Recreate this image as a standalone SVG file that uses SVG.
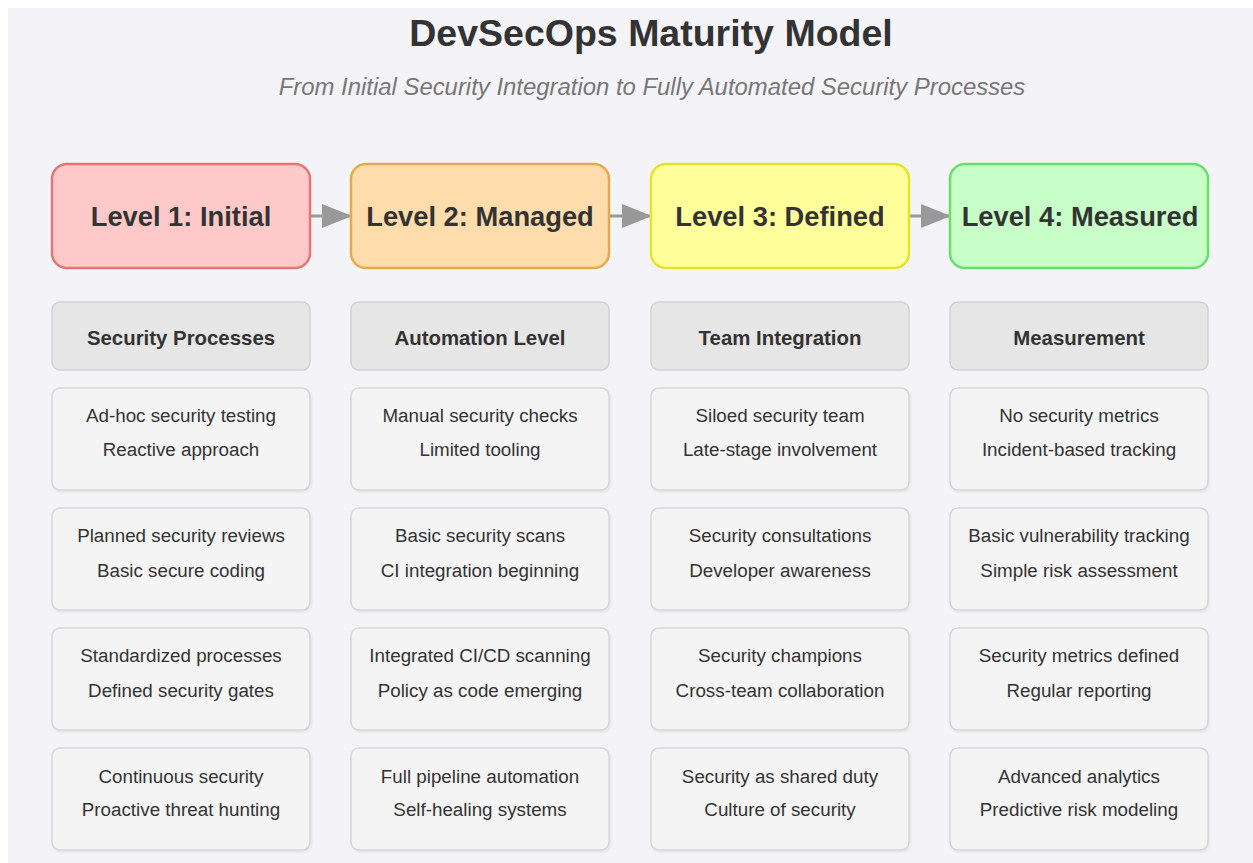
<svg xmlns="http://www.w3.org/2000/svg" width="1253" height="863" viewBox="0 0 1253 863">
  <defs>
    <style>
      .title { font-family: "Liberation Sans", Arial, sans-serif; font-weight: bold; font-size: 37.5px; fill: #333; text-anchor: middle; }
      .subtitle { font-family: "Liberation Sans", Arial, sans-serif; font-style: italic; font-size: 23.9px; fill: #777; text-anchor: middle; }
      .level { stroke-width: 2.5; }
      .level-text { font-family: "Liberation Sans", Arial, sans-serif; font-weight: bold; font-size: 27.3px; fill: #333; text-anchor: middle; }
      .head { fill: #e6e6e6; stroke: #d2d2d2; stroke-width: 1.5; }
      .head-text { font-family: "Liberation Sans", Arial, sans-serif; font-weight: bold; font-size: 20.4px; fill: #333; text-anchor: middle; }
      .cell { fill: #f4f4f4; stroke: #d6d6d6; stroke-width: 1.5; filter: url(#shadow); }
      .cell-text { font-family: "Liberation Sans", Arial, sans-serif; font-size: 18.8px; fill: #333; text-anchor: middle; }
      .conn { stroke: #999; stroke-width: 3; fill: none; marker-end: url(#arrow); }
    </style>
    <marker id="arrow" markerWidth="30" markerHeight="24" refX="29" refY="12" orient="auto" markerUnits="userSpaceOnUse">
      <polygon points="0 0, 30 12, 0 24" fill="#999"/>
    </marker>
    <filter id="shadow" x="-5%" y="-5%" width="110%" height="115%">
      <feDropShadow dx="1" dy="1.5" stdDeviation="1" flood-color="#000" flood-opacity="0.08"/>
    </filter>
  </defs>

  <rect x="0" y="0" width="1253" height="863" fill="#ffffff"/>
  <rect x="8" y="8" width="1245" height="855" fill="#f4f4f8"/>

  <text class="title" x="651" y="46">DevSecOps Maturity Model</text>
  <text class="subtitle" x="652" y="95">From Initial Security Integration to Fully Automated Security Processes</text>

  <!-- connectors between maturity levels -->
  <g id="connectors">
    <line class="conn" x1="310" y1="216" x2="351" y2="216"/>
    <line class="conn" x1="609" y1="216" x2="651" y2="216"/>
    <line class="conn" x1="909" y1="216" x2="950" y2="216"/>
  </g>

  <!-- maturity levels -->
  <g id="level1">
    <rect class="level" x="52" y="164" width="258" height="104" rx="15" fill="#ffc9c9" stroke="#e57676"/>
    <text class="level-text" x="181" y="226">Level 1: Initial</text>
  </g>
  <g id="level2">
    <rect class="level" x="351" y="164" width="258" height="104" rx="15" fill="#ffdcab" stroke="#e8a94a"/>
    <text class="level-text" x="480" y="226">Level 2: Managed</text>
  </g>
  <g id="level3">
    <rect class="level" x="651" y="164" width="258" height="104" rx="15" fill="#ffff9c" stroke="#e3e32a"/>
    <text class="level-text" x="780" y="226">Level 3: Defined</text>
  </g>
  <g id="level4">
    <rect class="level" x="950" y="164" width="258" height="104" rx="15" fill="#c8ffc8" stroke="#6ade6a"/>
    <text class="level-text" x="1080" y="226">Level 4: Measured</text>
  </g>

  <!-- column headers -->
  <g id="head-processes">
    <rect class="head" x="52" y="302" width="258" height="68" rx="8"/>
    <text class="head-text" x="181" y="345">Security Processes</text>
  </g>
  <g id="head-automation">
    <rect class="head" x="351" y="302" width="258" height="68" rx="8"/>
    <text class="head-text" x="480" y="345">Automation Level</text>
  </g>
  <g id="head-team">
    <rect class="head" x="651" y="302" width="258" height="68" rx="8"/>
    <text class="head-text" x="780" y="345">Team Integration</text>
  </g>
  <g id="head-measurement">
    <rect class="head" x="950" y="302" width="258" height="68" rx="8"/>
    <text class="head-text" x="1079" y="345">Measurement</text>
  </g>

  <!-- row 1 -->
  <g id="p1">
    <rect class="cell" x="52" y="388" width="258" height="102" rx="8"/>
    <text class="cell-text" x="181" y="422">Ad-hoc security testing</text>
    <text class="cell-text" x="181" y="456">Reactive approach</text>
  </g>
  <g id="a1">
    <rect class="cell" x="351" y="388" width="258" height="102" rx="8"/>
    <text class="cell-text" x="480" y="422">Manual security checks</text>
    <text class="cell-text" x="480" y="456">Limited tooling</text>
  </g>
  <g id="t1">
    <rect class="cell" x="651" y="388" width="258" height="102" rx="8"/>
    <text class="cell-text" x="780" y="422">Siloed security team</text>
    <text class="cell-text" x="780" y="456">Late-stage involvement</text>
  </g>
  <g id="m1">
    <rect class="cell" x="950" y="388" width="258" height="102" rx="8"/>
    <text class="cell-text" x="1079" y="422">No security metrics</text>
    <text class="cell-text" x="1079" y="456">Incident-based tracking</text>
  </g>

  <!-- row 2 -->
  <g id="p2">
    <rect class="cell" x="52" y="508" width="258" height="102" rx="8"/>
    <text class="cell-text" x="181" y="542">Planned security reviews</text>
    <text class="cell-text" x="181" y="577">Basic secure coding</text>
  </g>
  <g id="a2">
    <rect class="cell" x="351" y="508" width="258" height="102" rx="8"/>
    <text class="cell-text" x="480" y="542">Basic security scans</text>
    <text class="cell-text" x="480" y="577">CI integration beginning</text>
  </g>
  <g id="t2">
    <rect class="cell" x="651" y="508" width="258" height="102" rx="8"/>
    <text class="cell-text" x="780" y="542">Security consultations</text>
    <text class="cell-text" x="780" y="577">Developer awareness</text>
  </g>
  <g id="m2">
    <rect class="cell" x="950" y="508" width="258" height="102" rx="8"/>
    <text class="cell-text" x="1079" y="542">Basic vulnerability tracking</text>
    <text class="cell-text" x="1079" y="577">Simple risk assessment</text>
  </g>

  <!-- row 3 -->
  <g id="p3">
    <rect class="cell" x="52" y="628" width="258" height="102" rx="8"/>
    <text class="cell-text" x="181" y="662">Standardized processes</text>
    <text class="cell-text" x="181" y="697">Defined security gates</text>
  </g>
  <g id="a3">
    <rect class="cell" x="351" y="628" width="258" height="102" rx="8"/>
    <text class="cell-text" x="480" y="662">Integrated CI/CD scanning</text>
    <text class="cell-text" x="480" y="697">Policy as code emerging</text>
  </g>
  <g id="t3">
    <rect class="cell" x="651" y="628" width="258" height="102" rx="8"/>
    <text class="cell-text" x="780" y="662">Security champions</text>
    <text class="cell-text" x="780" y="697">Cross-team collaboration</text>
  </g>
  <g id="m3">
    <rect class="cell" x="950" y="628" width="258" height="102" rx="8"/>
    <text class="cell-text" x="1079" y="662">Security metrics defined</text>
    <text class="cell-text" x="1079" y="697">Regular reporting</text>
  </g>

  <!-- row 4 -->
  <g id="p4">
    <rect class="cell" x="52" y="748" width="258" height="102" rx="8"/>
    <text class="cell-text" x="181" y="783">Continuous security</text>
    <text class="cell-text" x="181" y="816">Proactive threat hunting</text>
  </g>
  <g id="a4">
    <rect class="cell" x="351" y="748" width="258" height="102" rx="8"/>
    <text class="cell-text" x="480" y="783">Full pipeline automation</text>
    <text class="cell-text" x="480" y="816">Self-healing systems</text>
  </g>
  <g id="t4">
    <rect class="cell" x="651" y="748" width="258" height="102" rx="8"/>
    <text class="cell-text" x="780" y="783">Security as shared duty</text>
    <text class="cell-text" x="780" y="816">Culture of security</text>
  </g>
  <g id="m4">
    <rect class="cell" x="950" y="748" width="258" height="102" rx="8"/>
    <text class="cell-text" x="1079" y="783">Advanced analytics</text>
    <text class="cell-text" x="1079" y="816">Predictive risk modeling</text>
  </g>
</svg>
